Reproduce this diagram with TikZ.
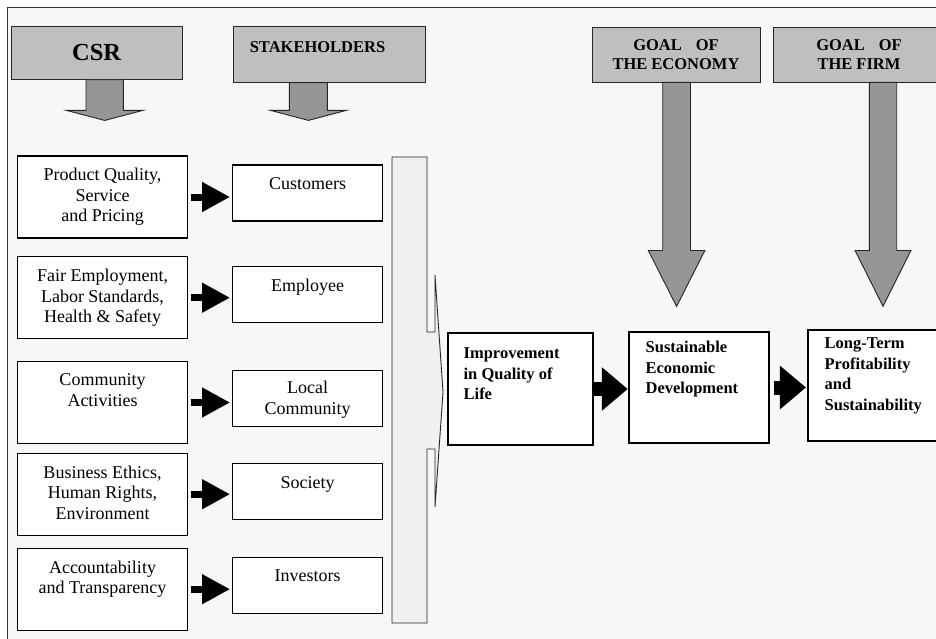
\documentclass[tikz,border=0pt]{standalone}
\usepackage{fontspec}
\setmainfont{Liberation Serif}
\usetikzlibrary{arrows.meta, positioning}

\begin{document}
\begin{tikzpicture}[x=1pt, y=-1pt, line join=miter,
    head/.style={rectangle, draw=black!85, fill=black!25, line width=0.9pt, inner sep=0},
    garrow/.style={draw=black!85, fill=black!41, line width=0.9pt},
    box/.style={rectangle, draw, fill=white, line width=1.1pt, inner sep=0},
    htxt/.style={inner sep=0, align=center, font=\bfseries\fontsize{16.5}{19}\selectfont},
    txt/.style={inner sep=0, align=center, font=\fontsize{18}{20.5}\selectfont},
    btxt/.style={inner sep=0, align=left, font=\bfseries\fontsize{16.5}{20.5}\selectfont},
    blk/.style={-{Triangle[length=28pt,width=28pt]}, line width=7pt, shorten <=2.3pt, shorten >=2pt},
    bigblk/.style={-{Triangle[length=26pt,width=42pt]}, line width=14pt}]

\useasboundingbox (0,0) rectangle (936,639);
\fill[white] (0,0) rectangle (936,639);
\draw[line width=1.3pt, draw=black!80, fill=black!3] (7.5,7.5) rectangle (960,660);

% headings
\node[head, minimum width=171.3pt, minimum height=52.6pt, font=\bfseries\fontsize{24.5}{28}\selectfont] (csr) at (96.6,53) {CSR};
\node[head, minimum width=191.7pt, minimum height=55.3pt] (stk) at (329.2,54.6) {};
\node[htxt, below right=14.7pt and 16.7pt of stk.north west] (stk-t) {STAKEHOLDERS};
\node[head, minimum width=168pt, minimum height=55pt, htxt] (eco) at (676,54.5) {GOAL\hspace{14pt}OF\\THE ECONOMY};
\node[head, minimum width=172pt, minimum height=55pt, htxt] (firm) at (859,54.5) {GOAL\hspace{14pt}OF\\THE FIRM};

% gray block arrows
\draw[garrow] ([xshift=-10.6pt]csr.south) -- ++(0,30.7) -- ++(-19.3,0) -- ++(38,10) -- ++(38,-10) -- ++(-19.3,0) -- ++(0,-30.7) -- cycle;
\draw[garrow] ([xshift=-39.8pt]stk.south) -- ++(0,27.7) -- ++(-18.8,0) -- ++(37.8,10) -- ++(37.8,-10) -- ++(-18.8,0) -- ++(0,-27.7) -- cycle;
\draw[garrow] ([xshift=-13.3pt]eco.south) -- ++(0,168) -- ++(-14.4,0) -- ++(28.3,56) -- ++(28.3,-56) -- ++(-14.4,0) -- ++(0,-168) -- cycle;
\draw[garrow] ([xshift=10.3pt]firm.south) -- ++(0,168) -- ++(-14.3,0) -- ++(28,56) -- ++(28,-56) -- ++(-14.3,0) -- ++(0,-168) -- cycle;

% CSR areas
\node[box, minimum width=170.5pt, minimum height=82pt] (prod) at (102.5,197) {};
\node[box, minimum width=170.5pt, minimum height=82pt] (fair) at (102.5,297.7) {};
\node[box, minimum width=170.5pt, minimum height=82pt] (comm) at (102.5,402.5) {};
\node[box, minimum width=170.5pt, minimum height=82pt] (bus) at (102.5,494.2) {};
\node[box, minimum width=170.5pt, minimum height=82pt] (acc) at (102.5,589.2) {};
\node[txt, below=12.7pt of prod.north] (prod-t) {Product Quality,\\Service\\and Pricing};
\node[txt, below=12.7pt of fair.north] (fair-t) {Fair Employment,\\Labor Standards,\\Health \& Safety};
\node[txt, below=12.7pt of comm.north] (comm-t) {Community\\Activities};
\node[txt, below=12.7pt of bus.north] (bus-t) {Business Ethics,\\Human Rights,\\Environment};
\node[txt, below=12.7pt of acc.north] (acc-t) {Accountability\\and Transparency};

% stakeholders
\node[box, minimum width=150pt, minimum height=56pt] (cust) at (307.7,193) {};
\node[box, minimum width=150pt, minimum height=56pt] (empl) at (307.7,294.2) {};
\node[box, minimum width=150pt, minimum height=56pt] (lcom) at (307.7,398.7) {};
\node[box, minimum width=150pt, minimum height=56pt] (soc) at (307.7,491.9) {};
\node[box, minimum width=150pt, minimum height=56pt] (inv) at (307.7,585.3) {};
\node[txt, below=13pt of cust.north] (cust-t) {Customers};
\node[txt, below=13pt of empl.north] (empl-t) {Employee};
\node[txt, below=11pt of lcom.north] (lcom-t) {Local\\Community};
\node[txt, below=13pt of soc.north] (soc-t) {Society};
\node[txt, below=13pt of inv.north] (inv-t) {Investors};

\draw[blk] (prod.east) -- (prod.east -| cust.west);
\draw[blk] (fair.east) -- (fair.east -| empl.west);
\draw[blk] (comm.east) -- (comm.east -| lcom.west);
\draw[blk] (bus.east) -- (bus.east -| soc.west);
\draw[blk] (acc.east) -- (acc.east -| inv.west);

% collecting bar
\draw[draw=black!85, fill=black!6, line width=0.9pt] (392,157) -- (427,157) -- (427,332) -- (435,332) -- (435,275)
  -- (443,392) -- (435,507) -- (435,449) -- (427,449) -- (427,623) -- (392,623) -- cycle;

% outcomes
\node[box, minimum width=145pt, minimum height=112pt] (impr) at (520.5,389) {};
\node[box, minimum width=140pt, minimum height=111pt] (sust) at (699,387.5) {};
\node[box, minimum width=137pt, minimum height=111pt] (long) at (876.5,385.5) {};
\node[btxt, below right=15.3pt and 16pt of impr.north west] (impr-t) {Improvement\\in Quality of\\Life};
\node[btxt, below right=9.7pt and 17pt of sust.north west] (sust-t) {Sustainable\\Economic\\Development};
\node[btxt, below right=8.3pt and 17pt of long.north west] (long-t) {Long-Term\\Profitability\\and\\Sustainability};

\draw[bigblk, shorten >=0.7pt] (impr.east) -- (impr.east -| sust.west);
\draw[bigblk, shorten <=4pt, shorten >=1.5pt] (sust.east) -- (sust.east -| long.west);
\end{tikzpicture}
\end{document}
